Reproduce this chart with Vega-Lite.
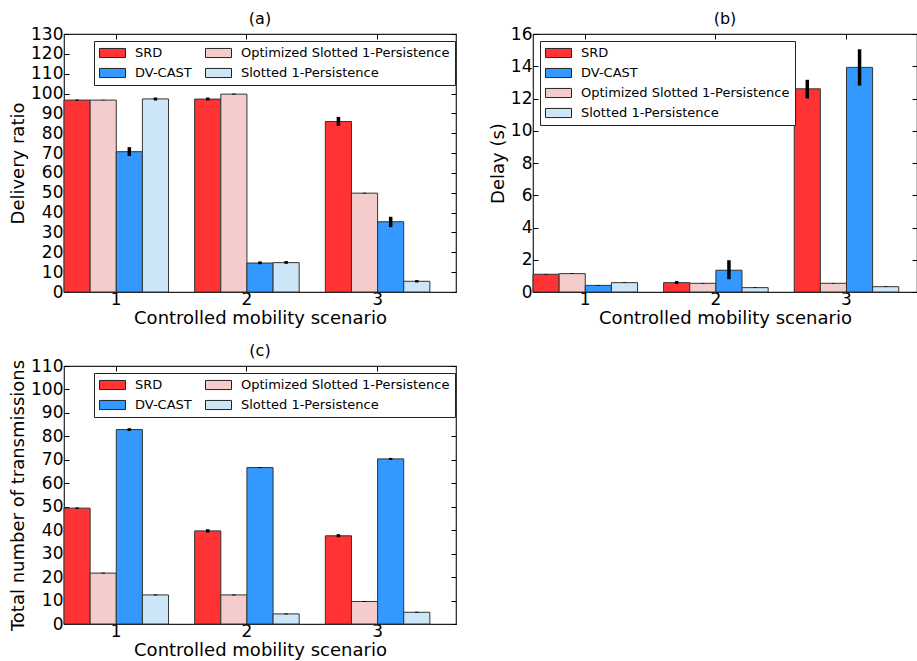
{
  "$schema": "https://vega.github.io/schema/vega-lite/v6.json",
  "padding": {"left": 8, "top": 10, "right": 0, "bottom": 0},
  "datasets": {
    "a": [
      {"scenario": "1", "protocol": "SRD", "value": 96.7, "lo": 96.5, "hi": 97.0},
      {"scenario": "1", "protocol": "Optimized Slotted 1-Persistence", "value": 96.7, "lo": 96.6, "hi": 96.8},
      {"scenario": "1", "protocol": "DV-CAST", "value": 70.7, "lo": 68.5, "hi": 73.0},
      {"scenario": "1", "protocol": "Slotted 1-Persistence", "value": 97.3, "lo": 96.5, "hi": 98.0},
      {"scenario": "2", "protocol": "SRD", "value": 97.2, "lo": 96.5, "hi": 98.0},
      {"scenario": "2", "protocol": "Optimized Slotted 1-Persistence", "value": 99.7, "lo": 99.5, "hi": 100.0},
      {"scenario": "2", "protocol": "DV-CAST", "value": 14.6, "lo": 14.0, "hi": 15.4},
      {"scenario": "2", "protocol": "Slotted 1-Persistence", "value": 14.8, "lo": 14.2, "hi": 15.6},
      {"scenario": "3", "protocol": "SRD", "value": 85.9, "lo": 83.7, "hi": 88.2},
      {"scenario": "3", "protocol": "Optimized Slotted 1-Persistence", "value": 49.8, "lo": 49.6, "hi": 50.0},
      {"scenario": "3", "protocol": "DV-CAST", "value": 35.4, "lo": 32.7, "hi": 37.9},
      {"scenario": "3", "protocol": "Slotted 1-Persistence", "value": 5.4, "lo": 4.8, "hi": 6.0}
    ],
    "b": [
      {"scenario": "1", "protocol": "SRD", "value": 1.1, "lo": 1.08, "hi": 1.12},
      {"scenario": "1", "protocol": "Optimized Slotted 1-Persistence", "value": 1.14, "lo": 1.12, "hi": 1.16},
      {"scenario": "1", "protocol": "DV-CAST", "value": 0.41, "lo": 0.39, "hi": 0.43},
      {"scenario": "1", "protocol": "Slotted 1-Persistence", "value": 0.58, "lo": 0.56, "hi": 0.6},
      {"scenario": "2", "protocol": "SRD", "value": 0.58, "lo": 0.5, "hi": 0.68},
      {"scenario": "2", "protocol": "Optimized Slotted 1-Persistence", "value": 0.54, "lo": 0.52, "hi": 0.56},
      {"scenario": "2", "protocol": "DV-CAST", "value": 1.35, "lo": 0.79, "hi": 1.97},
      {"scenario": "2", "protocol": "Slotted 1-Persistence", "value": 0.27, "lo": 0.25, "hi": 0.29},
      {"scenario": "3", "protocol": "SRD", "value": 12.6, "lo": 12.0, "hi": 13.16},
      {"scenario": "3", "protocol": "Optimized Slotted 1-Persistence", "value": 0.54, "lo": 0.52, "hi": 0.56},
      {"scenario": "3", "protocol": "DV-CAST", "value": 13.93, "lo": 12.8, "hi": 15.05},
      {"scenario": "3", "protocol": "Slotted 1-Persistence", "value": 0.33, "lo": 0.31, "hi": 0.35}
    ],
    "c": [
      {"scenario": "1", "protocol": "SRD", "value": 49.4, "lo": 49.1, "hi": 49.7},
      {"scenario": "1", "protocol": "Optimized Slotted 1-Persistence", "value": 21.7, "lo": 21.5, "hi": 21.9},
      {"scenario": "1", "protocol": "DV-CAST", "value": 82.9, "lo": 82.3, "hi": 83.5},
      {"scenario": "1", "protocol": "Slotted 1-Persistence", "value": 12.4, "lo": 12.2, "hi": 12.6},
      {"scenario": "2", "protocol": "SRD", "value": 39.7, "lo": 39.0, "hi": 40.4},
      {"scenario": "2", "protocol": "Optimized Slotted 1-Persistence", "value": 12.4, "lo": 12.2, "hi": 12.6},
      {"scenario": "2", "protocol": "DV-CAST", "value": 66.7, "lo": 66.5, "hi": 66.9},
      {"scenario": "2", "protocol": "Slotted 1-Persistence", "value": 4.3, "lo": 4.1, "hi": 4.5},
      {"scenario": "3", "protocol": "SRD", "value": 37.6, "lo": 37.0, "hi": 38.3},
      {"scenario": "3", "protocol": "Optimized Slotted 1-Persistence", "value": 9.6, "lo": 9.4, "hi": 9.8},
      {"scenario": "3", "protocol": "DV-CAST", "value": 70.4, "lo": 70.0, "hi": 70.8},
      {"scenario": "3", "protocol": "Slotted 1-Persistence", "value": 5.0, "lo": 4.8, "hi": 5.2}
    ]
  },
  "columns": 2,
  "spacing": {"column": 30, "row": 14},
  "concat": [
    {
      "title": "(a)",
      "width": 392,
      "height": 258,
      "data": {"name": "a"},
      "encoding": {
        "x": {"field": "scenario", "type": "ordinal", "scale": {"paddingInner": 0.2, "paddingOuter": 0.1, "align": 0},
              "axis": {"orient": "bottom", "title": "Controlled mobility scenario", "bandPosition": 0.5}},
        "xOffset": {"field": "protocol", "type": "nominal", "scale": {"domain": ["SRD", "Optimized Slotted 1-Persistence", "DV-CAST", "Slotted 1-Persistence"], "paddingInner": 0, "paddingOuter": 0}}
      },
      "layer": [
        {
          "mark": {"type": "bar", "stroke": "#333", "strokeWidth": 1},
          "encoding": {
            "y": {"field": "value", "type": "quantitative", "scale": {"domain": [0, 130], "nice": false},
                  "axis": {"orient": "left", "title": "Delivery ratio", "values": [0,10,20,30,40,50,60,70,80,90,100,110,120,130]}},
            "color": {"field": "protocol", "type": "nominal",
                      "scale": {"domain": ["SRD", "DV-CAST", "Optimized Slotted 1-Persistence", "Slotted 1-Persistence"], "range": ["#ff3333", "#3399ff", "#f4cccc", "#cce5f7"]},
                      "legend": {"title": null, "columns": 2, "legendX": 30, "legendY": 7}}
          }
        },
        {
          "mark": {"type": "rule", "strokeWidth": 3.5, "color": "black"},
          "encoding": {
            "x": {"field": "scenario", "type": "ordinal", "scale": {"paddingInner": 0.2, "paddingOuter": 0.1, "align": 0},
                  "axis": {"orient": "top", "labels": false, "title": null, "bandPosition": 0.5}},
            "y": {"field": "lo", "type": "quantitative", "scale": {"domain": [0, 130], "nice": false},
                  "axis": {"orient": "right", "labels": false, "title": null, "values": [0,10,20,30,40,50,60,70,80,90,100,110,120,130]}},
            "y2": {"field": "hi"}
          }
        }
      ],
      "resolve": {"axis": {"x": "independent", "y": "independent"}}
    },
    {
      "title": "(b)",
      "width": 384,
      "height": 258,
      "data": {"name": "b"},
      "encoding": {
        "x": {"field": "scenario", "type": "ordinal", "scale": {"paddingInner": 0.2, "paddingOuter": 0.07, "align": 0},
              "axis": {"orient": "bottom", "title": "Controlled mobility scenario", "bandPosition": 0.5}},
        "xOffset": {"field": "protocol", "type": "nominal", "scale": {"domain": ["SRD", "Optimized Slotted 1-Persistence", "DV-CAST", "Slotted 1-Persistence"], "paddingInner": 0, "paddingOuter": 0}}
      },
      "layer": [
        {
          "mark": {"type": "bar", "stroke": "#333", "strokeWidth": 1},
          "encoding": {
            "y": {"field": "value", "type": "quantitative", "scale": {"domain": [0, 16], "nice": false},
                  "axis": {"orient": "left", "title": "Delay (s)", "values": [0,2,4,6,8,10,12,14,16]}},
            "color": {"field": "protocol", "type": "nominal",
                      "scale": {"domain": ["SRD", "DV-CAST", "Optimized Slotted 1-Persistence", "Slotted 1-Persistence"], "range": ["#ff3333", "#3399ff", "#f4cccc", "#cce5f7"]},
                      "legend": {"title": null, "columns": 1, "legendX": 7, "legendY": 7}}
          }
        },
        {
          "mark": {"type": "rule", "strokeWidth": 3.5, "color": "black"},
          "encoding": {
            "x": {"field": "scenario", "type": "ordinal", "scale": {"paddingInner": 0.2, "paddingOuter": 0.07, "align": 0},
                  "axis": {"orient": "top", "labels": false, "title": null, "bandPosition": 0.5}},
            "y": {"field": "lo", "type": "quantitative", "scale": {"domain": [0, 16], "nice": false},
                  "axis": {"orient": "right", "labels": false, "title": null, "values": [0,2,4,6,8,10,12,14,16]}},
            "y2": {"field": "hi"}
          }
        }
      ],
      "resolve": {"axis": {"x": "independent", "y": "independent"}}
    },
    {
      "title": "(c)",
      "width": 392,
      "height": 258,
      "data": {"name": "c"},
      "encoding": {
        "x": {"field": "scenario", "type": "ordinal", "scale": {"paddingInner": 0.2, "paddingOuter": 0.1, "align": 0},
              "axis": {"orient": "bottom", "title": "Controlled mobility scenario", "bandPosition": 0.5}},
        "xOffset": {"field": "protocol", "type": "nominal", "scale": {"domain": ["SRD", "Optimized Slotted 1-Persistence", "DV-CAST", "Slotted 1-Persistence"], "paddingInner": 0, "paddingOuter": 0}}
      },
      "layer": [
        {
          "mark": {"type": "bar", "stroke": "#333", "strokeWidth": 1},
          "encoding": {
            "y": {"field": "value", "type": "quantitative", "scale": {"domain": [0, 110], "nice": false},
                  "axis": {"orient": "left", "title": "Total number of transmissions", "values": [0,10,20,30,40,50,60,70,80,90,100,110]}},
            "color": {"field": "protocol", "type": "nominal",
                      "scale": {"domain": ["SRD", "DV-CAST", "Optimized Slotted 1-Persistence", "Slotted 1-Persistence"], "range": ["#ff3333", "#3399ff", "#f4cccc", "#cce5f7"]},
                      "legend": {"title": null, "columns": 2, "legendX": 30, "legendY": 7}}
          }
        },
        {
          "mark": {"type": "rule", "strokeWidth": 3.5, "color": "black"},
          "encoding": {
            "x": {"field": "scenario", "type": "ordinal", "scale": {"paddingInner": 0.2, "paddingOuter": 0.1, "align": 0},
                  "axis": {"orient": "top", "labels": false, "title": null, "bandPosition": 0.5}},
            "y": {"field": "lo", "type": "quantitative", "scale": {"domain": [0, 110], "nice": false},
                  "axis": {"orient": "right", "labels": false, "title": null, "values": [0,10,20,30,40,50,60,70,80,90,100,110]}},
            "y2": {"field": "hi"}
          }
        }
      ],
      "resolve": {"axis": {"x": "independent", "y": "independent"}}
    }
  ],
  "resolve": {"scale": {"color": "independent"}, "legend": {"color": "independent"}},
  "config": {
    "font": "DejaVu Sans",
    "view": {"stroke": "#222", "strokeWidth": 1.2},
    "title": {"fontSize": 16, "fontWeight": "normal", "font": "DejaVu Sans", "offset": -2, "color": "#000"},
    "axis": {"domain": false, "grid": false, "tickSize": -5, "tickColor": "#000", "tickWidth": 1, "labelColor": "#000", "titleColor": "#000",
             "labelFontSize": 17, "titleFontSize": 18, "titleFontWeight": "normal", "labelFont": "DejaVu Sans", "titleFont": "DejaVu Sans"},
    "axisY": {"labelPadding": 6, "titlePadding": 3},
    "axisX": {"labelPadding": 4, "titlePadding": 2, "labelAngle": 0},
    "legend": {"orient": "none", "strokeColor": "#222", "fillColor": "white", "padding": 5, "labelFontSize": 13, "labelFont": "DejaVu Sans", "labelColor": "#000", "labelLimit": 400,
               "symbolType": "M-1,-0.7H3V0.7H-1Z", "symbolSize": 169, "symbolStrokeColor": "#222", "symbolStrokeWidth": 1, "symbolOpacity": 1,
               "labelOffset": 22, "rowPadding": 6, "columnPadding": 11, "cornerRadius": 0}
  }
}
